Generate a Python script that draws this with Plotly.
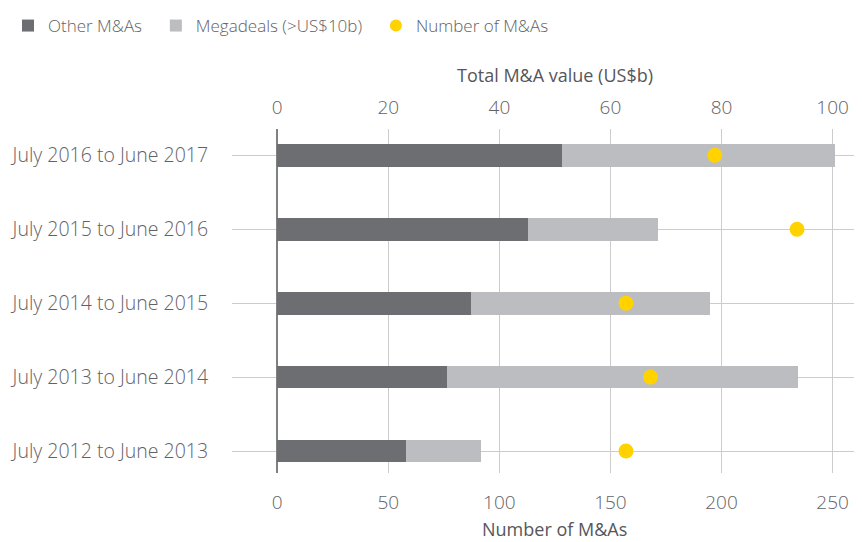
import plotly.graph_objects as go

# periods, bottom to top
periods = [
    "July 2012 to June 2013",
    "July 2013 to June 2014",
    "July 2014 to June 2015",
    "July 2015 to June 2016",
    "July 2016 to June 2017",
]
other_value = [23.1, 30.5, 34.8, 45.1, 51.2]       # US$b
mega_value = [13.6, 63.2, 43.1, 23.4, 49.2]        # US$b
deal_count = [157, 168, 157, 234, 197]

top_ticks = [0, 20, 40, 60, 80, 100]
bottom_ticks = [0, 50, 100, 150, 200, 250]

DARK = "#6d6e71"
LIGHT = "#bcbdc0"
YELLOW = "#ffd200"
GRID = "#cccccc"
TXT = "#626266"
FONT = "Open Sans"
PAD = "\u00a0\u00a0"  # extra room between legend entries

fig = go.Figure()
fig.add_trace(go.Bar(
    y=periods, x=other_value, orientation="h", name="Other M&As" + PAD,
    marker=dict(color=DARK, line=dict(width=0)), xaxis="x", yaxis="y",
))
fig.add_trace(go.Bar(
    y=periods, x=mega_value, orientation="h", name="Megadeals (>US$10b)" + PAD,
    marker=dict(color=LIGHT, line=dict(width=0)), xaxis="x", yaxis="y",
))
fig.add_trace(go.Scatter(
    y=periods, x=deal_count, mode="markers", name="Number of M&As",
    marker=dict(color=YELLOW, size=15, line=dict(width=0)), xaxis="x2", yaxis="y",
))

# the page body adds an 8px offset, so margins are shifted to compensate
fig.update_layout(
    width=862, height=542,
    margin=dict(l=224, r=8, t=121, b=77, autoexpand=False),
    barmode="stack", bargap=0.693,
    plot_bgcolor="white", paper_bgcolor="white",
    font=dict(family=FONT, size=19, color=TXT, weight=300),
    showlegend=True,
    legend=dict(
        orientation="h", xref="container", yref="container",
        x=0.0, y=1.0, xanchor="left", yanchor="top",
        font=dict(size=17, color=TXT, weight=300), traceorder="normal",
        itemsizing="constant",
    ),
    xaxis=dict(
        range=[-8.15, 105.3], side="top", tickvals=top_ticks,
        showgrid=True, gridcolor=GRID, gridwidth=1,
        zeroline=True, zerolinecolor="#808080", zerolinewidth=1.5,
        ticks="outside", ticklen=6, tickcolor="rgba(0,0,0,0)",
        showline=False, tickfont=dict(size=19, color=TXT, weight=300),
    ),
    xaxis2=dict(
        range=[-20.375, 263.25], overlaying="x", side="bottom", anchor="y",
        tickvals=bottom_ticks, showgrid=False, zeroline=False,
        ticks="outside", ticklen=12, tickcolor="rgba(0,0,0,0)",
        showline=False, tickfont=dict(size=19, color=TXT, weight=300),
    ),
    yaxis=dict(
        type="category", categoryorder="array", categoryarray=periods,
        range=[-0.297, 4.355], showgrid=True, gridcolor=GRID, gridwidth=1,
        ticks="outside", ticklen=19, tickcolor="rgba(0,0,0,0)",
        showline=False, zeroline=False,
        tickfont=dict(size=19.5, color=TXT, weight=300),
    ),
    annotations=[
        dict(text="Total M&A value (US$b)", x=50, xref="x", y=1.157, yref="paper",
             xanchor="center", yanchor="middle", showarrow=False,
             font=dict(size=18, color="#56565a", weight=400)),
        dict(text="Number of M&As", x=50, xref="x", y=-0.163, yref="paper",
             xanchor="center", yanchor="middle", showarrow=False,
             font=dict(size=18, color="#56565a", weight=400)),
    ],
)

fig.write_html("out.html")
